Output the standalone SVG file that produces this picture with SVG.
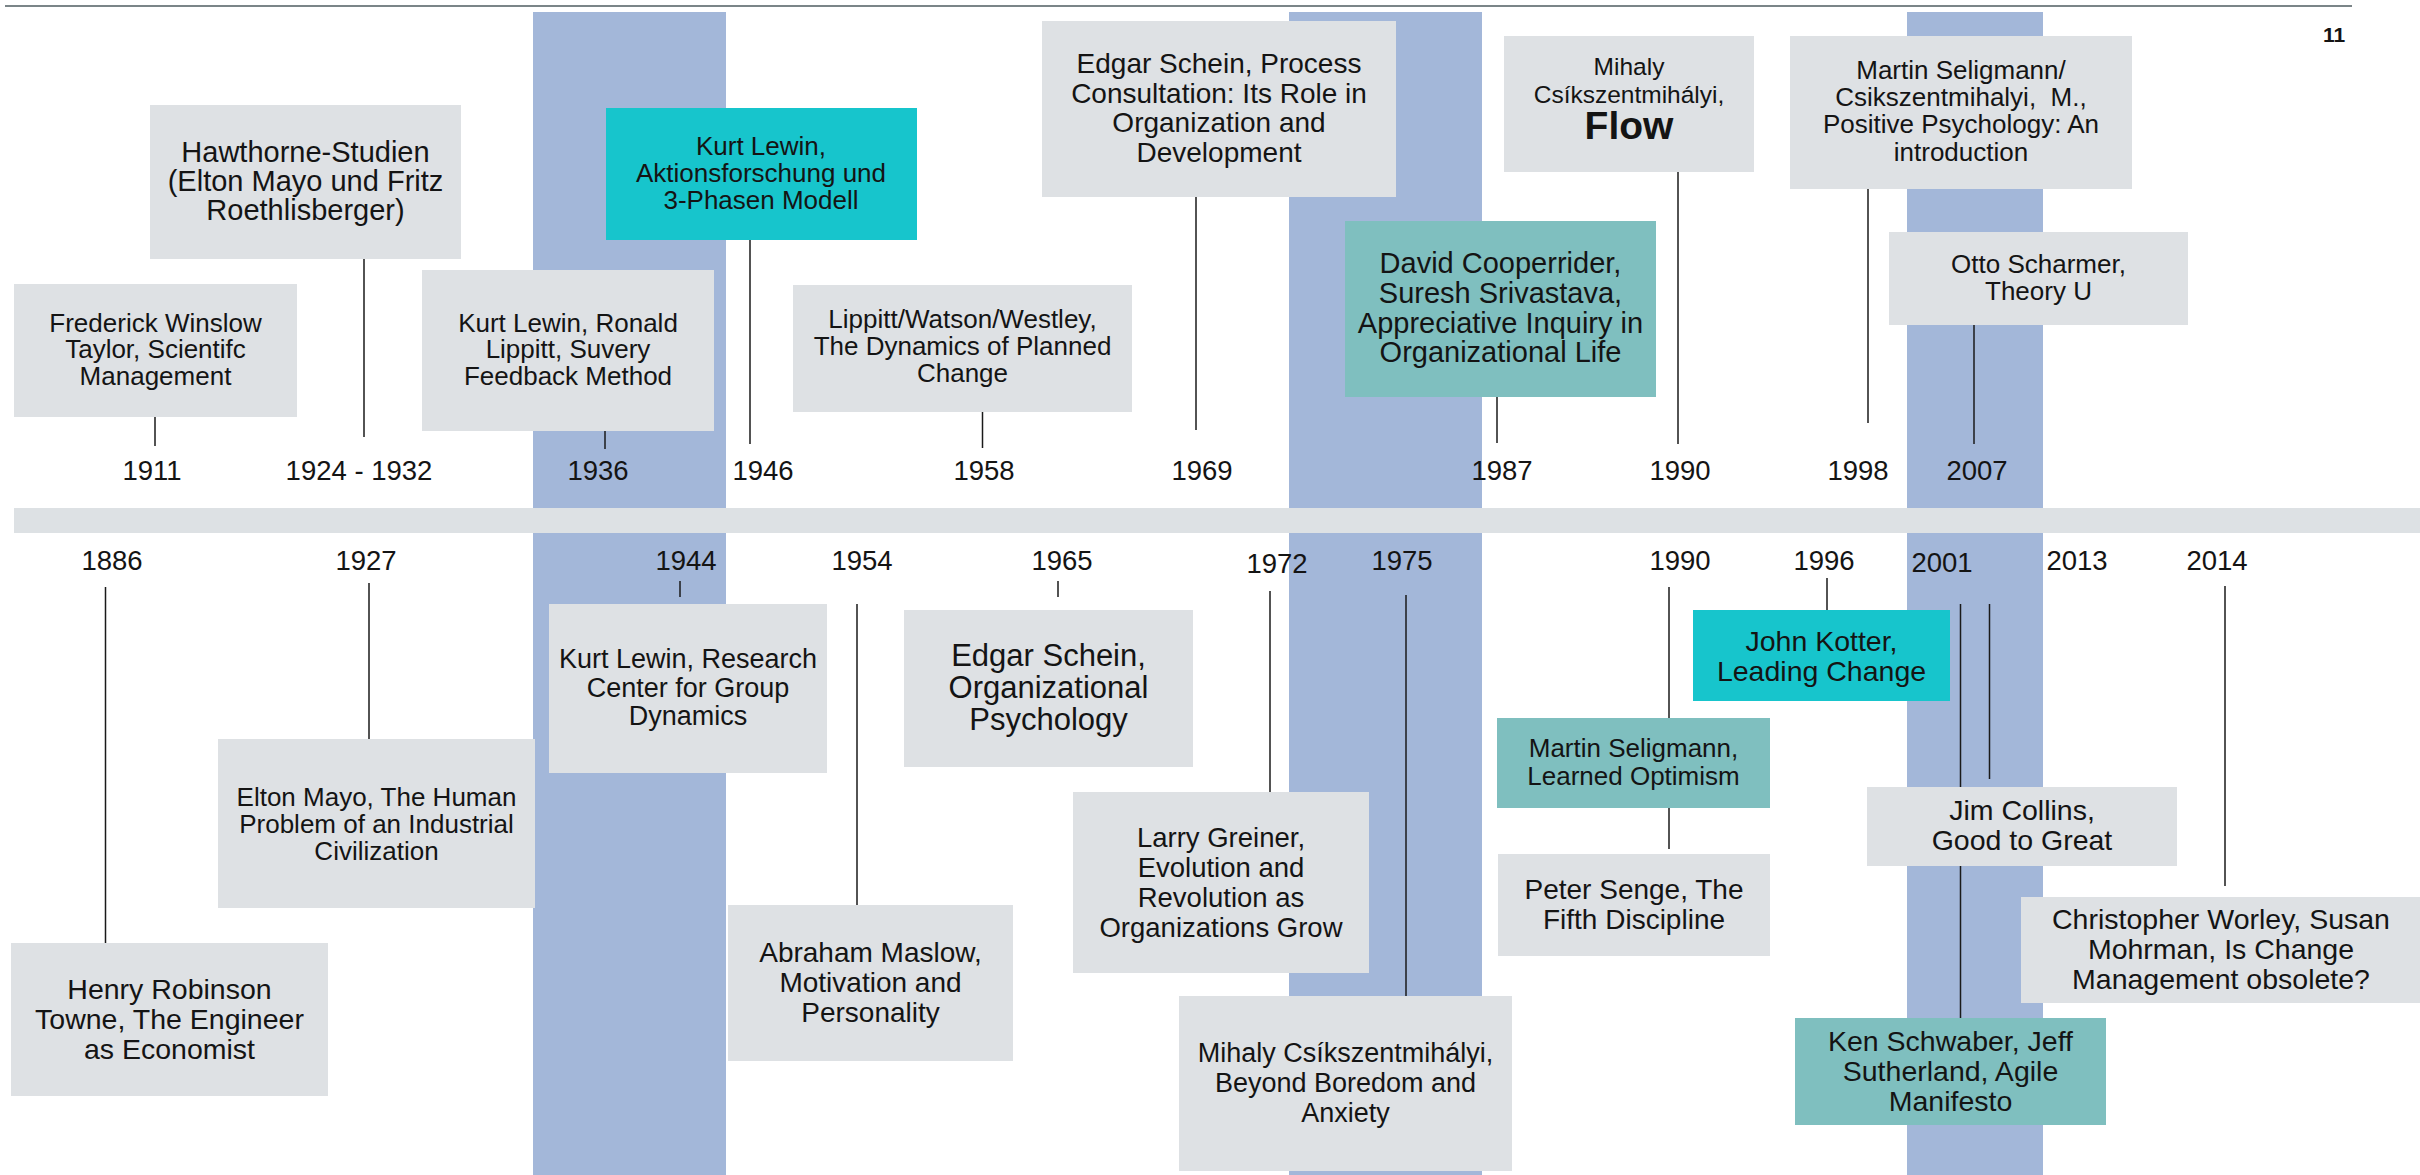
<svg xmlns="http://www.w3.org/2000/svg" width="2420" height="1175" viewBox="0 0 2420 1175">
<style>
text{font-family:"Liberation Sans",Arial,sans-serif;fill:#141414;text-anchor:middle}
.g{fill:#dee1e4}
.c{fill:#17c5cc}
.tl{fill:#7fbfbf}
.band{fill:#a3b7d9}
.yr{font-size:27.5px}
#connectors line{stroke:#1a1a1a;stroke-width:1.5}
</style>
<rect width="2420" height="1175" fill="#ffffff"/>
<line x1="5" y1="6" x2="2352" y2="6" stroke="#7b8588" stroke-width="2.2"/>
<text x="2334" y="42" style="font-size:21px;font-weight:bold">11</text>
<g id="bands">
<rect class="band" x="533" y="12" width="193" height="1163"/>
<rect class="band" x="1289" y="12" width="193" height="1163"/>
<rect class="band" x="1907" y="12" width="136" height="1163"/>
</g>
<rect id="timeline" x="14" y="508" width="2406" height="25" fill="#dde1e4"/>
<g id="years">
<text class="yr" x="152" y="480">1911</text>
<text class="yr" x="359" y="480">1924 - 1932</text>
<text class="yr" x="598" y="480">1936</text>
<text class="yr" x="763" y="480">1946</text>
<text class="yr" x="984" y="480">1958</text>
<text class="yr" x="1202" y="480">1969</text>
<text class="yr" x="1502" y="480">1987</text>
<text class="yr" x="1680" y="480">1990</text>
<text class="yr" x="1858" y="480">1998</text>
<text class="yr" x="1977" y="480">2007</text>
<text class="yr" x="112" y="570">1886</text>
<text class="yr" x="366" y="570">1927</text>
<text class="yr" x="686" y="570">1944</text>
<text class="yr" x="862" y="570">1954</text>
<text class="yr" x="1062" y="570">1965</text>
<text class="yr" x="1277" y="573">1972</text>
<text class="yr" x="1402" y="570">1975</text>
<text class="yr" x="1680" y="570">1990</text>
<text class="yr" x="1824" y="570">1996</text>
<text class="yr" x="1942" y="572">2001</text>
<text class="yr" x="2077" y="570">2013</text>
<text class="yr" x="2217" y="570">2014</text>
</g>
<g id="connectors">
<line x1="155" y1="417" x2="155" y2="446"/>
<line x1="364" y1="259" x2="364" y2="437"/>
<line x1="605" y1="431" x2="605" y2="449"/>
<line x1="750" y1="240" x2="750" y2="444"/>
<line x1="982.5" y1="412" x2="982.5" y2="448"/>
<line x1="1196" y1="197" x2="1196" y2="430"/>
<line x1="1497" y1="397" x2="1497" y2="443"/>
<line x1="1678" y1="172" x2="1678" y2="444"/>
<line x1="1868" y1="189" x2="1868" y2="423"/>
<line x1="1974" y1="325" x2="1974" y2="444"/>
<line x1="105.5" y1="587" x2="105.5" y2="943"/>
<line x1="369" y1="583" x2="369" y2="739"/>
<line x1="680" y1="581" x2="680" y2="597"/>
<line x1="857" y1="604" x2="857" y2="905"/>
<line x1="1058" y1="581" x2="1058" y2="597"/>
<line x1="1270" y1="591" x2="1270" y2="792"/>
<line x1="1406" y1="595" x2="1406" y2="996"/>
<line x1="1669" y1="587" x2="1669" y2="718"/>
<line x1="1669" y1="808" x2="1669" y2="849"/>
<line x1="1827" y1="578" x2="1827" y2="610"/>
<line x1="1960.5" y1="604" x2="1960.5" y2="787"/>
<line x1="1960.5" y1="866" x2="1960.5" y2="1018"/>
<line x1="1989.5" y1="604" x2="1989.5" y2="779"/>
<line x1="2225" y1="586" x2="2225" y2="886"/>
</g>
<g id="n-taylor">
<rect class="g" x="14" y="284" width="283" height="133"/>
<text style="font-size:26px"><tspan x="155.5" y="332">Frederick Winslow</tspan><tspan x="155.5" y="358">Taylor, Scientifc</tspan><tspan x="155.5" y="385">Management</tspan></text>
</g>
<g id="n-hawthorne">
<rect class="g" x="150" y="105" width="311" height="154"/>
<text style="font-size:29px"><tspan x="305.5" y="162">Hawthorne-Studien</tspan><tspan x="305.5" y="191">(Elton Mayo und Fritz</tspan><tspan x="305.5" y="220">Roethlisberger)</tspan></text>
</g>
<g id="n-lewin-survey">
<rect class="g" x="422" y="270" width="292" height="161"/>
<text style="font-size:26px"><tspan x="568" y="332">Kurt Lewin, Ronald</tspan><tspan x="568" y="358">Lippitt, Suvery</tspan><tspan x="568" y="385">Feedback Method</tspan></text>
</g>
<g id="n-lewin-aktion">
<rect class="c" x="606" y="108" width="311" height="132"/>
<text style="font-size:26px"><tspan x="761" y="155">Kurt Lewin,</tspan><tspan x="761" y="182">Aktionsforschung und</tspan><tspan x="761" y="209">3-Phasen Modell</tspan></text>
</g>
<g id="n-lippitt">
<rect class="g" x="793" y="285" width="339" height="127"/>
<text style="font-size:26px"><tspan x="962.5" y="328">Lippitt/Watson/Westley,</tspan><tspan x="962.5" y="355">The Dynamics of Planned</tspan><tspan x="962.5" y="382">Change</tspan></text>
</g>
<g id="n-schein-process">
<rect class="g" x="1042" y="21" width="354" height="176"/>
<text style="font-size:28px"><tspan x="1219" y="73">Edgar Schein, Process</tspan><tspan x="1219" y="103">Consultation: Its Role in</tspan><tspan x="1219" y="132">Organization and</tspan><tspan x="1219" y="162">Development</tspan></text>
</g>
<g id="n-cooperrider">
<rect class="tl" x="1345" y="221" width="311" height="176"/>
<text style="font-size:29px"><tspan x="1500.5" y="273">David Cooperrider,</tspan><tspan x="1500.5" y="303">Suresh Srivastava,</tspan><tspan x="1500.5" y="333">Appreciative Inquiry in</tspan><tspan x="1500.5" y="362">Organizational Life</tspan></text>
</g>
<g id="n-flow">
<rect class="g" x="1504" y="36" width="250" height="136"/>
<text style="font-size:24.5px"><tspan x="1629" y="75">Mihaly</tspan><tspan x="1629" y="103">Csíkszentmihályi,</tspan></text>
<text x="1629" y="139" style="font-size:39px;font-weight:bold">Flow</text>
</g>
<g id="n-positive">
<rect class="g" x="1790" y="36" width="342" height="153"/>
<text style="font-size:26px"><tspan x="1961" y="79">Martin Seligmann/</tspan><tspan x="1961" y="106">Csikszentmihalyi,&#160; M.,</tspan><tspan x="1961" y="133">Positive Psychology: An</tspan><tspan x="1961" y="161">introduction</tspan></text>
</g>
<g id="n-scharmer">
<rect class="g" x="1889" y="232" width="299" height="93"/>
<text style="font-size:26px"><tspan x="2038.5" y="273">Otto Scharmer,</tspan><tspan x="2038.5" y="300">Theory U</tspan></text>
</g>
<g id="n-towne">
<rect class="g" x="11" y="943" width="317" height="153"/>
<text style="font-size:28.5px"><tspan x="169.5" y="999">Henry Robinson</tspan><tspan x="169.5" y="1029">Towne, The Engineer</tspan><tspan x="169.5" y="1059">as Economist</tspan></text>
</g>
<g id="n-mayo">
<rect class="g" x="218" y="739" width="317" height="169"/>
<text style="font-size:26px"><tspan x="376.5" y="806">Elton Mayo, The Human</tspan><tspan x="376.5" y="833">Problem of an Industrial</tspan><tspan x="376.5" y="860">Civilization</tspan></text>
</g>
<g id="n-lewin-research">
<rect class="g" x="549" y="604" width="278" height="169"/>
<text style="font-size:27px"><tspan x="688" y="668">Kurt Lewin, Research</tspan><tspan x="688" y="697">Center for Group</tspan><tspan x="688" y="725">Dynamics</tspan></text>
</g>
<g id="n-maslow">
<rect class="g" x="728" y="905" width="285" height="156"/>
<text style="font-size:28px"><tspan x="870.5" y="962">Abraham Maslow,</tspan><tspan x="870.5" y="992">Motivation and</tspan><tspan x="870.5" y="1022">Personality</tspan></text>
</g>
<g id="n-schein-org">
<rect class="g" x="904" y="610" width="289" height="157"/>
<text style="font-size:31px"><tspan x="1048.5" y="666">Edgar Schein,</tspan><tspan x="1048.5" y="698">Organizational</tspan><tspan x="1048.5" y="730">Psychology</tspan></text>
</g>
<g id="n-greiner">
<rect class="g" x="1073" y="792" width="296" height="181"/>
<text style="font-size:27.5px"><tspan x="1221" y="847">Larry Greiner,</tspan><tspan x="1221" y="877">Evolution and</tspan><tspan x="1221" y="907">Revolution as</tspan><tspan x="1221" y="937">Organizations Grow</tspan></text>
</g>
<g id="n-boredom">
<rect class="g" x="1179" y="996" width="333" height="175"/>
<text style="font-size:27px"><tspan x="1345.5" y="1062">Mihaly Csíkszentmihályi,</tspan><tspan x="1345.5" y="1092">Beyond Boredom and</tspan><tspan x="1345.5" y="1122">Anxiety</tspan></text>
</g>
<g id="n-optimism">
<rect class="tl" x="1497" y="718" width="273" height="90"/>
<text style="font-size:26px"><tspan x="1633.5" y="757">Martin Seligmann,</tspan><tspan x="1633.5" y="785">Learned Optimism</tspan></text>
</g>
<g id="n-senge">
<rect class="g" x="1498" y="854" width="272" height="102"/>
<text style="font-size:28px"><tspan x="1634" y="899">Peter Senge, The</tspan><tspan x="1634" y="929">Fifth Discipline</tspan></text>
</g>
<g id="n-kotter">
<rect class="c" x="1693" y="610" width="257" height="91"/>
<text style="font-size:28.5px"><tspan x="1821.5" y="651">John Kotter,</tspan><tspan x="1821.5" y="681">Leading Change</tspan></text>
</g>
<g id="n-collins">
<rect class="g" x="1867" y="787" width="310" height="79"/>
<text style="font-size:28.5px"><tspan x="2022" y="820">Jim Collins,</tspan><tspan x="2022" y="850">Good to Great</tspan></text>
</g>
<g id="n-agile">
<rect class="tl" x="1795" y="1018" width="311" height="107"/>
<text style="font-size:28.5px"><tspan x="1950.5" y="1051">Ken Schwaber, Jeff</tspan><tspan x="1950.5" y="1081">Sutherland, Agile</tspan><tspan x="1950.5" y="1111">Manifesto</tspan></text>
</g>
<g id="n-worley">
<rect class="g" x="2021" y="897" width="399" height="106"/>
<text style="font-size:28.5px"><tspan x="2221" y="929">Christopher Worley, Susan</tspan><tspan x="2221" y="959">Mohrman, Is Change</tspan><tspan x="2221" y="989">Management obsolete?</tspan></text>
</g>
</svg>
